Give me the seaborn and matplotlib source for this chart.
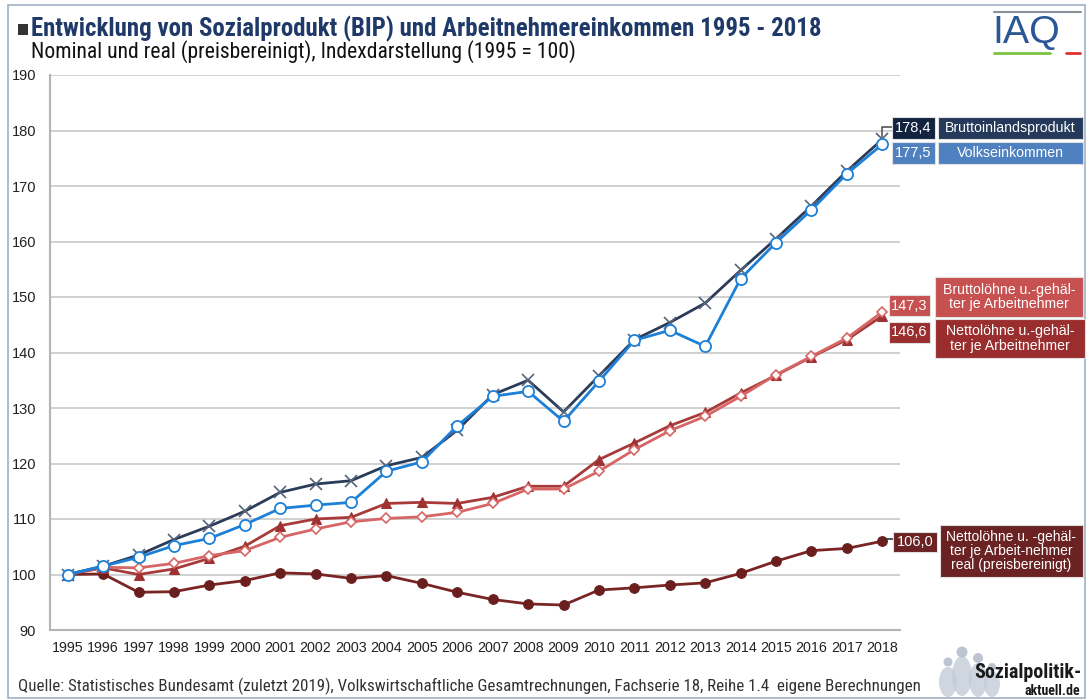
import numpy as np
import pandas as pd
import matplotlib
matplotlib.use("Agg")
import matplotlib.pyplot as plt
from matplotlib.patches import Rectangle, Ellipse
from matplotlib.lines import Line2D
from matplotlib import font_manager
import seaborn as sns

# ---------------- data ----------------
years = list(range(1995, 2019))
bip = [100, 101.5, 103.5, 106.3, 108.7, 111.4, 114.8, 116.3, 116.9, 119.6, 121.1, 126.0,
       132.4, 135.0, 129.3, 135.8, 142.3, 145.4, 148.9, 154.8, 160.5, 166.4, 172.7, 178.4]
volks = [100, 101.5, 103.1, 105.2, 106.5, 109.0, 111.9, 112.5, 113.0, 118.6, 120.3, 126.8,
         132.1, 133.0, 127.6, 134.8, 142.2, 144.0, 141.1, 153.3, 159.8, 165.7, 172.2, 177.5]
brutto = [100, 101.3, 101.2, 102.0, 103.4, 104.3, 106.7, 108.2, 109.5, 110.1, 110.4, 111.2,
          112.8, 115.4, 115.4, 118.6, 122.5, 125.9, 128.5, 132.1, 136.0, 139.3, 142.6, 147.3]
netto = [100, 101.2, 100.0, 101.0, 102.9, 105.1, 108.8, 110.0, 110.3, 112.8, 113.0, 112.8,
         113.9, 115.9, 115.9, 120.7, 123.7, 126.8, 129.2, 132.7, 135.9, 139.2, 142.3, 146.6]
netto_real = [100, 100.1, 96.8, 96.9, 98.1, 98.9, 100.3, 100.1, 99.3, 99.8, 98.4, 96.8,
              95.5, 94.7, 94.5, 97.2, 97.6, 98.1, 98.5, 100.2, 102.4, 104.3, 104.7, 106.0]

value_labels = ["178,4", "177,5", "147,3", "146,6", "106,0"]
series_names = ["Bruttoinlandsprodukt", "Volkseinkommen",
                "Bruttolöhne u.-gehäl-\nter je Arbeitnehmer",
                "Nettolöhne u.-gehäl-\nter je Arbeitnehmer",
                "Nettolöhne u. -gehäl-\nter je Arbeit-nehmer\nreal (preisbereinigt)"]
title = "Entwicklung von Sozialprodukt (BIP) und Arbeitnehmereinkommen 1995 - 2018"
subtitle = "Nominal und real (preisbereinigt), Indexdarstellung (1995 = 100)"
source = ("Quelle: Statistisches Bundesamt (zuletzt 2019), Volkswirtschaftliche Gesamtrechnungen, "
          "Fachserie 18, Reihe 1.4  eigene Berechnungen")
y_ticks = list(range(90, 200, 10))

# ---------------- style ----------------
sns.set_style("white")
avail = sorted({f.name for f in font_manager.fontManager.ttflist})
base = "Liberation Sans" if "Liberation Sans" in avail else "DejaVu Sans"
narrow = base
for cand in ["Liberation Sans Narrow", "Roboto Condensed", "Open Sans Condensed",
             "Noto Sans Condensed", "DejaVu Sans Condensed"]:
    if cand in avail:
        narrow = cand
        break
plt.rcParams["font.family"] = [base, "DejaVu Sans"]

W, H = 1089, 700
fig = plt.figure(figsize=(W / 100, H / 100), dpi=100)
fig.patch.set_facecolor("white")
ax = fig.add_axes([50 / W, 1 - 630 / H, 850 / W, 555 / H])

df = pd.DataFrame({"Jahr": years, "bip": bip, "volks": volks, "brutto": brutto,
                   "netto": netto, "netto_real": netto_real})

styles = [
    ("netto_real", "#7a2424", dict(marker="o", markersize=7, markerfacecolor="#6a1e1e",
                                   markeredgecolor="#6a1e1e")),
    ("netto", "#a83a3a", dict(marker="^", markersize=7.5, markerfacecolor="#9e3232",
                              markeredgecolor="#9e3232")),
    ("brutto", "#d76565", dict(marker="D", markersize=5.5, markerfacecolor="white",
                               markeredgecolor="#d76565", markeredgewidth=1.2)),
    ("bip", "#2a3c5a", dict(marker="x", markersize=8, markeredgecolor="#56647a",
                            markeredgewidth=1.2)),
    ("volks", "#1d80d8", dict(marker="o", markersize=8, markerfacecolor="white",
                              markeredgecolor="#1d80d8", markeredgewidth=1.3)),
]
for col, color, kw in styles:
    sns.lineplot(data=df, x="Jahr", y=col, ax=ax, color=color, linewidth=2.0, **kw)

ax.set_xlim(1994.5, 2018.5)
ax.set_ylim(90, 190)
ax.set_yticks(y_ticks)
ax.set_xticks(years)
ax.set_xticklabels([str(y) for y in years])
ax.set_xlabel("")
ax.set_ylabel("")
ax.grid(axis="y", color="#c8c8c8", linewidth=1.2)
ax.set_axisbelow(True)
for s in ["top", "right"]:
    ax.spines[s].set_visible(False)
for s in ["left", "bottom"]:
    ax.spines[s].set_color("#b4b4b4")
    ax.spines[s].set_linewidth(1.5)
ax.tick_params(axis="y", direction="out", length=4, color="#a0a0a0", labelsize=10.5,
               labelcolor="#222222", pad=6)
ax.tick_params(axis="x", direction="in", length=3, color="#a0a0a0", labelsize=10.3,
               labelcolor="#222222", pad=8)
ax.set_facecolor("white")

# ---------------- helpers ----------------
def px(x, y):
    return x / W, 1 - y / H

renderer = fig.canvas.get_renderer()

def fit(t, target):
    bb = t.get_window_extent(renderer)
    t.set_fontsize(t.get_fontsize() * target / bb.width)

def box(x0, y0, x1, y1, color, text, fs=9.5, ls=1.05):
    fig.add_artist(Rectangle(px(x0, y1), (x1 - x0) / W, (y1 - y0) / H,
                             transform=fig.transFigure, facecolor=color,
                             edgecolor="#e0e0e0", linewidth=0.8, zorder=5))
    cx, cy = px((x0 + x1) / 2, (y0 + y1) / 2)
    return fig.text(cx, cy, text, ha="center", va="center", color="white", fontsize=fs,
                    linespacing=ls, zorder=6)

# ---------------- value / name boxes ----------------
box(892, 117, 935, 139, "#13233f", value_labels[0], fs=10.5)
box(938, 117, 1083, 139, "#25395b", series_names[0], fs=10.2)
box(892, 142, 935, 164, "#4f81c1", value_labels[1], fs=10.5)
box(938, 142, 1083, 164, "#4f81c1", series_names[1], fs=10.2)

box(889, 295, 930, 316, "#c75050", value_labels[2], fs=10.5)
box(935, 277, 1083, 317, "#c75050", series_names[2], fs=10.2)
box(889, 322, 930, 343, "#9a2e2e", value_labels[3], fs=10.5)
box(935, 319, 1085, 358, "#9a2e2e", series_names[3], fs=10.2)

box(893, 532, 937, 552, "#6a2222", value_labels[4], fs=10.5)
box(940, 525, 1083, 577, "#6a2222", series_names[4], fs=10, ls=1.0)

# connectors
ax.annotate("", xy=(years[-1], bip[-1]), xycoords="data",
            xytext=(892, H - 127), textcoords="figure pixels",
            arrowprops=dict(arrowstyle="-", color="#555555", lw=1.2,
                            connectionstyle="angle,angleA=0,angleB=90,rad=0",
                            shrinkA=0, shrinkB=2))
ax.annotate("", xy=(years[-1], netto_real[-1]), xycoords="data",
            xytext=(893, H - 539), textcoords="figure pixels",
            arrowprops=dict(arrowstyle="-", color="#333333", lw=1.2,
                            connectionstyle="angle,angleA=0,angleB=90,rad=0",
                            shrinkA=0, shrinkB=2))

# ---------------- titles ----------------
fig.add_artist(Rectangle(px(18, 35), 10 / W, 11 / H, transform=fig.transFigure,
                         facecolor="#333333", edgecolor="none"))
t1 = fig.text(*px(31, 36), title, fontsize=14, fontweight="bold", color="#1f3a68",
              family=[narrow, "DejaVu Sans"], va="baseline", ha="left")
fit(t1, 795)
t2 = fig.text(*px(31, 58), subtitle, fontsize=12, color="#111111",
              family=[narrow, "DejaVu Sans"], va="baseline", ha="left")
fit(t2, 545)
t3 = fig.text(*px(18, 686), source, fontsize=10, color="#333333",
              family=[narrow, "DejaVu Sans"], va="center", ha="left")
fit(t3, 894)

# IAQ logo
fig.add_artist(Line2D([994 / W, 1081 / W], [1 - 12 / H, 1 - 12 / H],
                      transform=fig.transFigure, color="#8a8f96", lw=1.5))
tl = fig.text(*px(992, 33), "IAQ", fontsize=26, color="#2b5797", va="center", ha="left")
fit(tl, 68)
fig.add_artist(Line2D([994 / W, 1050 / W], [1 - 53 / H, 1 - 53 / H],
                      transform=fig.transFigure, color="#7cc243", lw=2))
fig.add_artist(Line2D([1066 / W, 1080 / W], [1 - 53 / H, 1 - 53 / H],
                      transform=fig.transFigure, color="#e03030", lw=2))

# Sozialpolitik-aktuell logo (stylised people silhouettes + text)
for (cx, cy, w, h) in [(948, 682, 18, 30), (962, 676, 20, 40), (978, 680, 18, 34),
                       (992, 684, 16, 26)]:
    fig.add_artist(Ellipse(px(cx, cy), w / W, h / H, transform=fig.transFigure,
                           facecolor="#c3ccd8", edgecolor="none", alpha=0.8))
for (cx, cy, d) in [(948, 662, 9), (962, 652, 11), (978, 658, 10), (992, 667, 8)]:
    fig.add_artist(Ellipse(px(cx, cy), d / W, d / H, transform=fig.transFigure,
                           facecolor="#b5bfcc", edgecolor="none", alpha=0.9))
ts = fig.text(*px(974, 673), "Sozialpolitik-", fontsize=13, fontweight="bold",
              color="#1a1a1a", va="center", ha="left", family=[narrow, "DejaVu Sans"])
fit(ts, 107)
ta = fig.text(*px(1080, 691), "aktuell.de", fontsize=9, fontweight="bold",
              color="#1a1a1a", va="center", ha="right", family=[narrow, "DejaVu Sans"])
fit(ta, 56)

# outer frame
fig.add_artist(Rectangle((8 / W, 2 / H), 1077 / W, 693 / H, transform=fig.transFigure,
                         facecolor="none", edgecolor="#9fb0c2", linewidth=1.2))

fig.savefig("out.png", dpi=100)
